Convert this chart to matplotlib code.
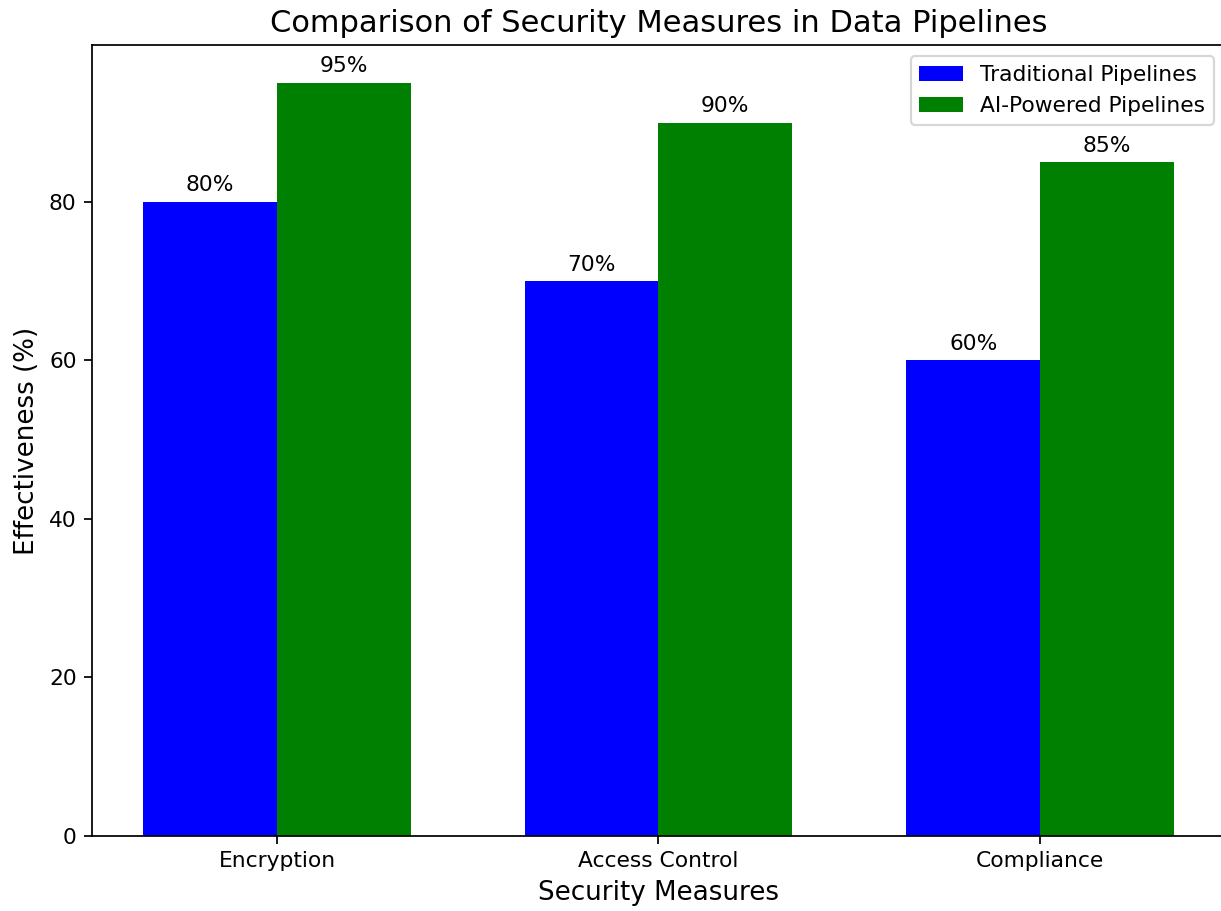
import matplotlib
matplotlib.use("Agg")
import matplotlib.pyplot as plt
import numpy as np

measures = ["Encryption", "Access Control", "Compliance"]
traditional = [80, 70, 60]
ai_powered = [95, 90, 85]

bar_width = 0.35
x = np.arange(len(measures))

DPI = 157
fig = plt.figure(figsize=(1221 / DPI, 911 / DPI), dpi=DPI)
ax = fig.add_axes([0.0753, 0.0823, 0.928, 0.868])

bars_trad = ax.bar(x - bar_width / 2, traditional, bar_width,
                   color="blue", label="Traditional Pipelines")
bars_ai = ax.bar(x + bar_width / 2, ai_powered, bar_width,
                 color="green", label="AI-Powered Pipelines")

# Percentage labels above each bar
for bars in (bars_trad, bars_ai):
    for bar in bars:
        h = bar.get_height()
        ax.annotate(f"{h}%",
                    xy=(bar.get_x() + bar.get_width() / 2, h),
                    xytext=(0, 3),
                    textcoords="offset points",
                    ha="center", va="bottom", fontsize=10)

ax.set_title("Comparison of Security Measures in Data Pipelines", fontsize=14)
ax.set_xlabel("Security Measures", fontsize=12)
ax.set_ylabel("Effectiveness (%)", fontsize=12)
ax.set_xticks(x)
ax.set_xticklabels(measures)
ax.legend(loc="upper right")

fig.savefig("out.png", dpi=DPI)
plt.close(fig)
